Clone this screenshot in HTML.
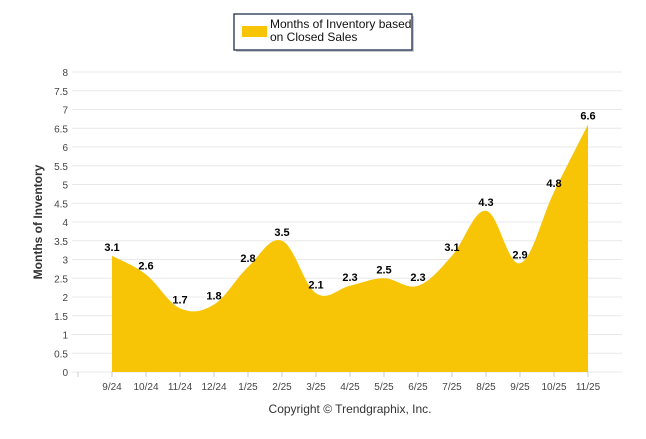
<!DOCTYPE html>
<html><head><meta charset="utf-8"><style>
body{margin:0;background:#fff;width:646px;height:434px;overflow:hidden;font-family:"Liberation Sans",Arial,sans-serif}
</style></head><body>
<svg id="chart" width="646" height="434" xmlns="http://www.w3.org/2000/svg">
<g>
<rect x="236" y="16" width="178" height="36" fill="#999" opacity="0.5"/>
<rect x="234" y="14" width="178" height="36" fill="#fff" stroke="#1f3050" stroke-width="1.3"/>
<rect x="242" y="26" width="25" height="11" fill="#f7c505"/>
<text x="270" y="28" font-size="12" fill="#111">Months of Inventory based</text>
<text x="270" y="41" font-size="12" fill="#111">on Closed Sales</text>
</g>
<g id="grid"></g>
<path id="area" fill="#f7c505"/>
<g id="labels"></g>
<text transform="translate(42,222) rotate(-90)" text-anchor="middle" font-size="12" font-weight="bold" fill="#333">Months of Inventory</text>
<text x="350" y="413" text-anchor="middle" font-size="12" fill="#333">Copyright © Trendgraphix, Inc.</text>
</svg>
<script>
const categories=["9/24","10/24","11/24","12/24","1/25","2/25","3/25","4/25","5/25","6/25","7/25","8/25","9/25","10/25","11/25"];
const values=[3.1,2.6,1.7,1.8,2.8,3.5,2.1,2.3,2.5,2.3,3.1,4.3,2.9,4.8,6.6];
const yTicks=[0,0.5,1,1.5,2,2.5,3,3.5,4,4.5,5,5.5,6,6.5,7,7.5,8];
const NS="http://www.w3.org/2000/svg";
const x0=78,step=34,yb=372,yt=72,ymax=8;
const X=i=>x0+step*(i+1);
const Y=v=>yb-(v/ymax)*(yb-yt);
const grid=document.getElementById('grid');
function mk(t,a,p){const e=document.createElementNS(NS,t);for(const k in a)e.setAttribute(k,a[k]);p.appendChild(e);return e;}
yTicks.forEach(v=>{
 const l=mk('line',{x1:x0-6,x2:622,y1:Y(v),y2:Y(v),stroke:'#e8e8e8'},grid);
 
 
 const t=mk('text',{x:68,y:Y(v)+4,'text-anchor':'end','font-size':'10',fill:'#444'},grid);
 t.textContent=v;
 
 
});
mk('line',{x1:x0,x2:x0,y1:yb,y2:yb+5,stroke:'#ccc'},grid);
categories.forEach((c,i)=>{
 mk('line',{x1:X(i),x2:X(i),y1:yb,y2:yb+5,stroke:'#ccc'},grid);
 const t=mk('text',{x:X(i),y:yb+18,'text-anchor':'middle','font-size':'10',fill:'#444'},grid);
 t.textContent=c;
 
 
});
const pts=values.map((v,i)=>[X(i),Y(v)]);
let d=`M${pts[0][0]},${yb}L${pts[0][0]},${pts[0][1]}`;
const tension=0.18;
function ctrl(i){
 const p=pts[i],a=pts[i-1]||p,b=pts[i+1]||p;
 const dx=(b[0]-a[0])*tension,dy=(b[1]-a[1])*tension;
 return [[p[0]-dx,p[1]-dy],[p[0]+dx,p[1]+dy]];
}
for(let i=1;i<pts.length;i++){
 const c1=ctrl(i-1)[1],c2=ctrl(i)[0];
 d+=`C${c1[0]},${c1[1]} ${c2[0]},${c2[1]} ${pts[i][0]},${pts[i][1]}`;
}
d+=`L${pts[pts.length-1][0]},${yb}Z`;
document.getElementById('area').setAttribute('d',d);
const lab=document.getElementById('labels');
values.forEach((v,i)=>{
 const t=mk('text',{x:X(i),y:Y(v)-5,'text-anchor':'middle','font-size':'11','font-weight':'bold',fill:'#000'},lab);
 t.textContent=v.toFixed(1);
 
 
});
</script>
</body></html>
